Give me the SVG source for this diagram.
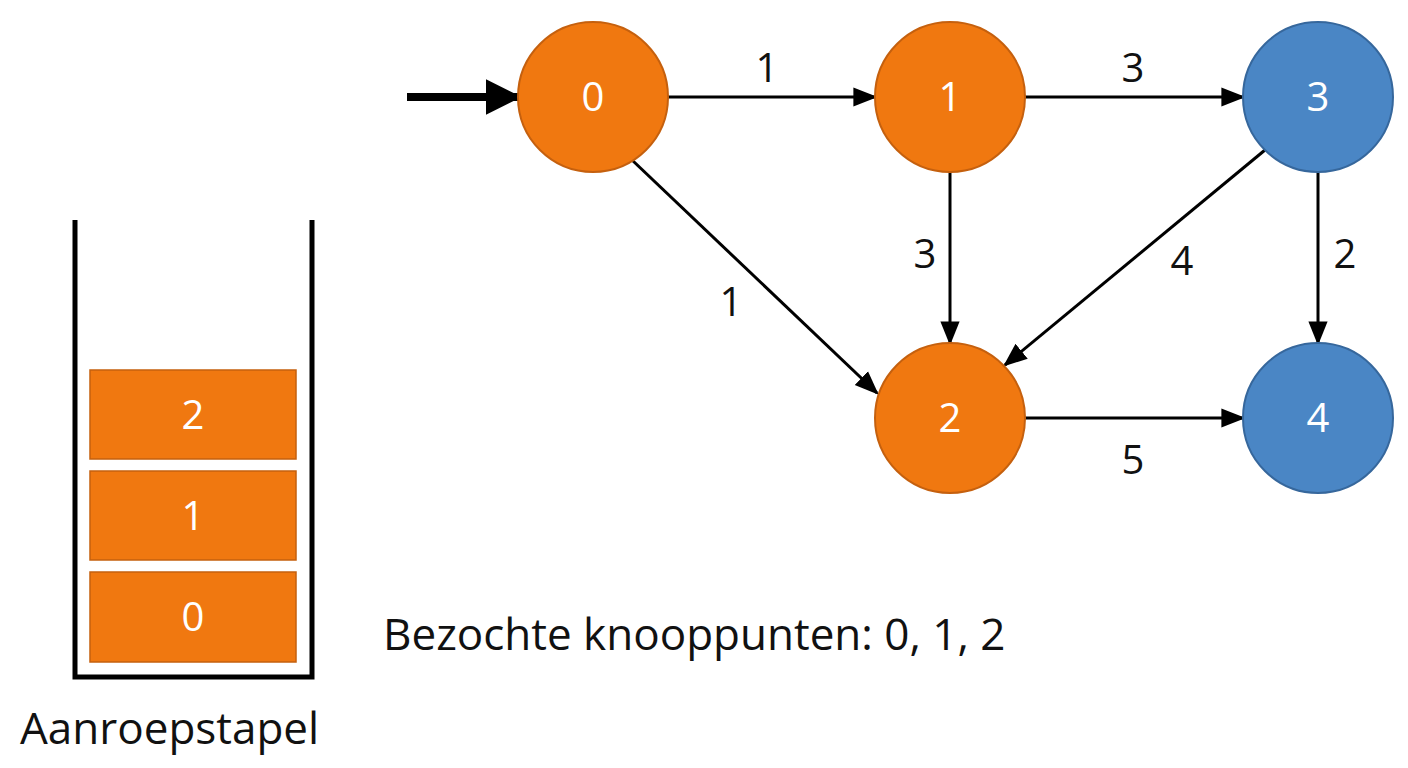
<svg xmlns="http://www.w3.org/2000/svg" width="1408" height="768" viewBox="0 0 1408 768">
<style>
text{font-family:"Open Sans","Noto Sans",sans-serif}
.o{fill:#F07810;stroke:#C5600E;stroke-width:2}
.b{fill:#4A86C5;stroke:#36679C;stroke-width:2}
.nt{fill:#fff;font-size:40px;text-anchor:middle}
.e{stroke:#000;stroke-width:3;fill:none;marker-end:url(#a)}
.lb{font-size:40px;fill:#111;text-anchor:middle}
.big{font-size:44px;fill:#111}
</style>
<defs>
<marker id="a" markerWidth="8" markerHeight="8" refX="7" refY="4" orient="auto" markerUnits="userSpaceOnUse" viewBox="0 0 8 8"><path d="M0,0L8,4L0,8z" fill="#000"/></marker>
<marker id="a2" viewBox="0 0 10 10" refX="9" refY="5" markerWidth="36" markerHeight="36" orient="auto" markerUnits="userSpaceOnUse"><path d="M0,0L10,5L0,10z" fill="#000"/></marker>
</defs>
<rect width="1408" height="768" fill="#fff"/>
<g id="connectors">
<line x1="407" y1="97" x2="518" y2="97" stroke="#000" stroke-width="8" marker-end="url(#a2)"/>
<line class="e" x1="668" y1="97" x2="875" y2="97" style="marker-end:url(#m)"/>
</g>
<defs><marker id="m" viewBox="0 0 10 10" refX="9" refY="5" markerWidth="24" markerHeight="24" orient="auto" markerUnits="userSpaceOnUse"><path d="M0,1L10,5L0,9z" fill="#000"/></marker></defs>
<g id="edges" style="stroke:#000;stroke-width:3">
<line x1="1025" y1="97" x2="1243" y2="97" marker-end="url(#m)"/>
<line x1="950" y1="172" x2="950" y2="343" marker-end="url(#m)"/>
<line x1="632" y1="160" x2="877" y2="393" marker-end="url(#m)"/>
<line x1="1265" y1="150" x2="1005" y2="365" marker-end="url(#m)"/>
<line x1="1318" y1="172" x2="1318" y2="343" marker-end="url(#m)"/>
<line x1="1025" y1="418" x2="1243" y2="418" marker-end="url(#m)"/>
</g>
<g id="edge-labels">
<text class="lb" x="767" y="82">1</text>
<text class="lb" x="1133" y="82">3</text>
<text class="lb" x="925" y="268">3</text>
<text class="lb" x="731" y="316">1</text>
<text class="lb" x="1182" y="275">4</text>
<text class="lb" x="1345" y="268">2</text>
<text class="lb" x="1133" y="474">5</text>
</g>
<g id="n0"><circle class="o" cx="593" cy="97" r="75"/><text class="nt" x="593" y="111">0</text></g>
<g id="n1"><circle class="o" cx="950" cy="97" r="75"/><text class="nt" x="950" y="111">1</text></g>
<g id="n3"><circle class="b" cx="1318" cy="97" r="75"/><text class="nt" x="1318" y="111">3</text></g>
<g id="n2"><circle class="o" cx="950" cy="418" r="75"/><text class="nt" x="950" y="432">2</text></g>
<g id="n4"><circle class="b" cx="1318" cy="418" r="75"/><text class="nt" x="1318" y="432">4</text></g>
<g id="stack">
<path d="M75,220V677H312V220" fill="none" stroke="#000" stroke-width="5"/>
<rect class="o" x="90" y="370" width="206" height="89" style="stroke-width:1.5"/>
<rect class="o" x="90" y="471" width="206" height="89" style="stroke-width:1.5"/>
<rect class="o" x="90" y="572" width="206" height="90" style="stroke-width:1.5"/>
<text class="nt" x="193" y="429">2</text>
<text class="nt" x="193" y="530">1</text>
<text class="nt" x="193" y="631">0</text>
</g>
<text class="big" x="20" y="744">Aanroepstapel</text>
<text class="big" x="383" y="650">Bezochte knooppunten: 0, 1, 2</text>
</svg>
